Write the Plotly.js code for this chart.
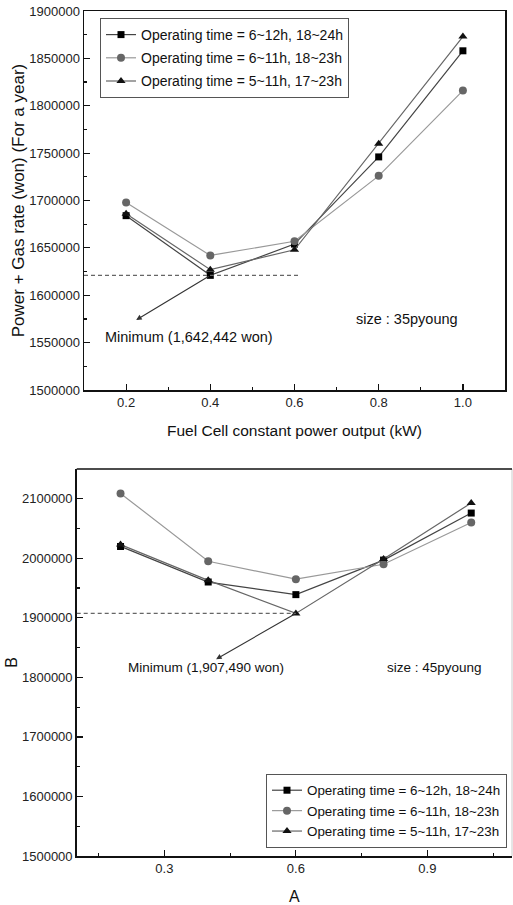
<!DOCTYPE html>
<html><head><meta charset="utf-8">
<script src="https://cdn.plot.ly/plotly-3.0.1.min.js"></script>
<style>html,body{margin:0;padding:0;background:#fff;overflow:hidden}</style>
</head><body><div id="chart" style="width:513px;height:905px"></div>
<script>
// ---- data ----
const powerOutputKW = [0.2, 0.4, 0.6, 0.8, 1.0];
const seriesNames = [
  'Operating time = 6~12h, 18~24h',
  'Operating time = 6~11h, 18~23h',
  'Operating time = 5~11h, 17~23h'
];
// 35 pyoung (top chart)
const cost35_6to12 = [1684000, 1621000, 1654000, 1746000, 1858000];
const cost35_6to11 = [1698000, 1642000, 1657000, 1726000, 1816000];
const cost35_5to11 = [1686000, 1627000, 1648000, 1760000, 1873000];
// 45 pyoung (bottom chart)
const cost45_6to12 = [2020000, 1960000, 1939000, 1997000, 2076000];
const cost45_6to11 = [2109000, 1995000, 1965000, 1990000, 2060000];
const cost45_5to11 = [2023000, 1963000, 1907490, 1999000, 2093000];

const topYTickVals = [1500000, 1550000, 1600000, 1650000, 1700000, 1750000, 1800000, 1850000, 1900000];
const topXTickVals = [0.2, 0.4, 0.6, 0.8, 1.0];
const botYTickVals = [1500000, 1600000, 1700000, 1800000, 1900000, 2000000, 2100000];
const botXTickVals = [0.3, 0.6, 0.9];

const topMinLabel = 'Minimum (1,642,442 won)';
const botMinLabel = 'Minimum (1,907,490 won)';
const topSizeLabel = 'size : 35pyoung';
const botSizeLabel = 'size : 45pyoung';

// ---- styles ----
const FONT = '"Liberation Sans", Arial, sans-serif';
const styles = [
  {line: '#444', marker: '#000', symbol: 'square', size: 7},
  {line: '#999', marker: '#666', symbol: 'circle', size: 8},
  {line: '#666', marker: '#111', symbol: 'triangle-up', size: 8}
];

function mk(y, i, xa, ya, leg) {
  return {
    x: powerOutputKW, y: y, type: 'scatter', mode: 'lines+markers',
    name: seriesNames[i], xaxis: xa, yaxis: ya, legend: leg, legendgroup: leg + i,
    line: {color: styles[i].line, width: 1.2},
    marker: {symbol: styles[i].symbol, size: styles[i].size, color: styles[i].marker}
  };
}
const traces = [
  mk(cost35_6to12, 0, 'x', 'y', 'legend'),
  mk(cost35_6to11, 1, 'x', 'y', 'legend'),
  mk(cost35_5to11, 2, 'x', 'y', 'legend'),
  mk(cost45_6to12, 0, 'x2', 'y2', 'legend2'),
  mk(cost45_6to11, 1, 'x2', 'y2', 'legend2'),
  mk(cost45_5to11, 2, 'x2', 'y2', 'legend2')
];

const topMin = Math.min(...cost35_6to12);
const topMinX = powerOutputKW[cost35_6to12.indexOf(topMin)];
const botMin = Math.min(...cost45_5to11);
const botMinX = powerOutputKW[cost45_5to11.indexOf(botMin)];

const tickFont = {family: FONT, size: 13, color: '#222'};
const textFont = {family: FONT, size: 14.5, color: '#111'};
const textFont2 = {family: FONT, size: 13.5, color: '#111'};
function axis(extra) {
  return Object.assign({
    showgrid: false, zeroline: false, showline: true, linecolor: '#111', linewidth: 1.5,
    mirror: true, ticks: 'inside', ticklen: 6, tickwidth: 1.2, tickcolor: '#111',
    tickfont: tickFont, fixedrange: true, automargin: false
  }, extra);
}

const layout = {
  width: 513, height: 905,
  margin: {l: 0, r: 0, t: 0, b: 0, autoexpand: false},
  paper_bgcolor: '#fff', plot_bgcolor: '#fff',
  font: {family: FONT, color: '#222'},
  showlegend: true,
  xaxis: axis({domain: [84/513, 505/513], range: [0.1, 1.1], tickmode: 'array', tickvals: topXTickVals,
    ticktext: topXTickVals.map(v => v.toFixed(1)), anchor: 'y',
    minor: {dtick: 0.1, tick0: 0.1, ticks: 'inside', ticklen: 3, tickcolor: '#111'},
    title: {text: 'Fuel Cell constant power output (kW)', font: {family: FONT, size: 15.5, color: '#111'}, standoff: 16}}),
  yaxis: axis({domain: [1 - 390/905, 1 - 11/905], range: [1500000, 1900000], tickmode: 'array',
    tickvals: topYTickVals, tickformat: 'd', anchor: 'x',
    minor: {dtick: 25000, tick0: 1500000, ticks: 'inside', ticklen: 3, tickcolor: '#111'},
    title: {text: 'Power + Gas rate (won) (For a year)', font: {family: FONT, size: 17, color: '#111'}, standoff: 0}}),
  xaxis2: axis({domain: [76.7/513, 512/513], range: [0.1, 1.093], tickmode: 'array', tickvals: botXTickVals,
    ticktext: botXTickVals.map(v => v.toFixed(1)), anchor: 'y2', mirror: false,
    minor: {dtick: 0.15, tick0: 0, ticks: 'inside', ticklen: 3, tickcolor: '#111'},
    title: {text: 'A', font: {family: FONT, size: 16, color: '#111'}, standoff: 17}}),
  yaxis2: axis({domain: [1 - 856/905, 1 - 469/905], range: [1500000, 2150000], tickmode: 'array',
    tickvals: botYTickVals, tickformat: 'd', anchor: 'x2', mirror: false,
    minor: {dtick: 50000, tick0: 1500000, ticks: 'inside', ticklen: 3, tickcolor: '#111'},
    title: {text: 'B', font: {family: FONT, size: 16, color: '#111'}, standoff: 0}}),
  legend: {x: 100/513, y: 1 - 18/905, xanchor: 'left', yanchor: 'top', bgcolor: '#fff',
    bordercolor: '#555', borderwidth: 1, font: {family: FONT, size: 14, color: '#111'},
    tracegroupgap: 2, itemwidth: 30},
  legend2: {x: 266/513, y: 1 - 774/905, xanchor: 'left', yanchor: 'top', bgcolor: '#fff',
    bordercolor: '#555', borderwidth: 1, font: {family: FONT, size: 13.4, color: '#111'},
    tracegroupgap: 0, itemwidth: 30},
  shapes: [
    {type: 'line', xref: 'x', yref: 'y', x0: 0.1, x1: 0.615, y0: topMin, y1: topMin,
     line: {color: '#666', width: 1.2, dash: '4px,3px'}},
    {type: 'line', xref: 'x2', yref: 'y2', x0: 0.1, x1: botMinX, y0: botMin, y1: botMin,
     line: {color: '#666', width: 1.2, dash: '4px,3px'}},
    {type: 'line', xref: 'x2 domain', yref: 'y2 domain', x0: 1, x1: 1, y0: 0, y1: 1,
     line: {color: '#ccc', width: 1}},
    {type: 'line', xref: 'x2 domain', yref: 'y2 domain', x0: 0, x1: 1, y0: 1, y1: 1,
     line: {color: '#111', width: 1.5}}
  ],
  annotations: [
    {xref: 'x', yref: 'y', x: 0.224, y: 1573800, axref: 'x', ayref: 'y', ax: topMinX, ay: topMin,
     text: '', showarrow: true, arrowhead: 2, arrowsize: 1, arrowwidth: 1.1, arrowcolor: '#333'},
    {xref: 'x', yref: 'y', x: 0.35, y: 1556200, text: topMinLabel, showarrow: false, font: textFont},
    {xref: 'x', yref: 'y', x: 0.867, y: 1574600, text: topSizeLabel, showarrow: false, font: textFont},
    {xref: 'x2', yref: 'y2', x: 0.418, y: 1830600, axref: 'x2', ayref: 'y2', ax: botMinX, ay: botMin,
     text: '', showarrow: true, arrowhead: 2, arrowsize: 1, arrowwidth: 1.1, arrowcolor: '#333'},
    {xref: 'x2', yref: 'y2', x: 0.394, y: 1816000, text: botMinLabel, showarrow: false, font: textFont2},
    {xref: 'x2', yref: 'y2', x: 0.916, y: 1816000, text: botSizeLabel, showarrow: false, font: textFont2}
  ]
};

Plotly.newPlot('chart', traces, layout, {displayModeBar: false, staticPlot: true});
</script></body></html>
